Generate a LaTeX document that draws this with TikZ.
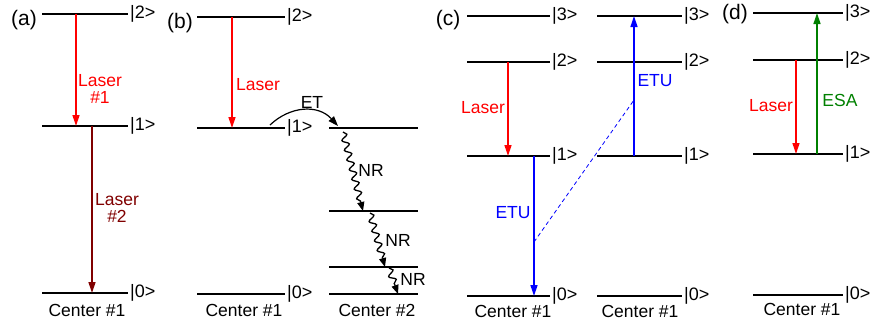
\documentclass[tikz,border=0pt]{standalone}
\usepackage{fontspec}
\setmainfont{Liberation Sans}
\usetikzlibrary{arrows.meta,decorations.pathmorphing}

\definecolor{laserred}{RGB}{255,0,0}
\definecolor{lasermaroon}{RGB}{128,0,0}
\definecolor{etublue}{RGB}{0,0,255}
\definecolor{esagreen}{RGB}{0,128,0}

% energy level: name, x start, x end, y
\newcommand{\bareLevel}[4]{%
  \draw[lvl] (#2,#4) coordinate (#1L) -- (#3,#4) coordinate (#1R);}
% energy level with its ket label
\newcommand{\enLevel}[5]{%
  \bareLevel{#1}{#2}{#3}{#4}
  \node[ket] (#1k) at (#1R) {#5};}

\begin{document}
\begin{tikzpicture}[x=1pt,y=-1pt,
    lvl/.style={line width=1.3pt},
    ket/.style={anchor=west,inner sep=2pt,font=\fontsize{18}{19}\selectfont},
    lbl/.style={inner sep=0pt,align=center,font=\fontsize{17.5}{16.5}\selectfont},
    panel/.style={inner sep=0pt,font=\fontsize{21}{22}\selectfont},
    trans/.style={line width=1.3pt,-{Triangle[length=11pt,width=7pt]}},
    nr/.style={line width=1.3pt,-{Triangle[length=9pt,width=7pt]},decorate,
      decoration={snake,amplitude=3.2pt,segment length=10pt,post length=8pt}}]
\useasboundingbox (0,0) rectangle (876,322);

% (a)
\node[panel] (pa) at (24,20) {(a)};
\enLevel{a2}{42}{128}{14}{|2>}
\enLevel{a1}{42}{128}{126}{|1>}
\enLevel{a0}{42}{128}{293}{|0>}
\node[lbl] (ca) at (87,310) {Center \#1};
\coordinate (aL1s) at (76,14);  \coordinate (aL1e) at (76,126);
\coordinate (aL2s) at (92,126); \coordinate (aL2e) at (92,293);
\draw[trans,laserred] (aL1s) -- (aL1e);
\draw[trans,lasermaroon] (aL2s) -- (aL2e);
\node[lbl,laserred] (las1) at (100,89) {Laser\\\#1};
\node[lbl,lasermaroon] (las2) at (117,208) {Laser\\\#2};

% (b)
\node[panel] (pb) at (180,23) {(b)};
\enLevel{b2}{197}{285}{17}{|2>}
\enLevel{b1}{197}{285}{128}{|1>}
\enLevel{b0}{197}{285}{294}{|0>}
\bareLevel{d3}{329}{418}{128}
\bareLevel{d2}{329}{418}{211}
\bareLevel{d1}{329}{418}{267}
\bareLevel{d0}{329}{418}{294}
\node[lbl] (cb1) at (244,310) {Center \#1};
\node[lbl] (cb2) at (377,310) {Center \#2};
\coordinate (bLs) at (232,17); \coordinate (bLe) at (232,128);
\draw[trans,laserred] (bLs) -- (bLe);
\node[lbl,laserred] (lasb) at (258,85) {Laser};
\coordinate (etS) at (270,125); \coordinate (etE) at (338,126);
\draw[line width=1.2pt,-{Triangle[length=10pt,width=7pt]}]
  (etS) .. controls (290,106) and (318,104) .. (etE);
\node[lbl] (et) at (312,102) {ET};
\coordinate (nr1s) at (343,132); \coordinate (nr1e) at (363,211);
\coordinate (nr2s) at (370,213); \coordinate (nr2e) at (385,267);
\coordinate (nr3s) at (389,268); \coordinate (nr3e) at (398,294);
\draw[nr] (nr1s) -- (nr1e);
\draw[nr] (nr2s) -- (nr2e);
\draw[nr] (nr3s) -- (nr3e);
\node[lbl] (nr1) at (371,170) {NR};
\node[lbl] (nr2) at (398,240) {NR};
\node[lbl] (nr3) at (413,279) {NR};

% (c)
\node[panel] (pc) at (448,20) {(c)};
\enLevel{c3}{467}{550}{16}{|3>}
\enLevel{c2}{467}{550}{62}{|2>}
\enLevel{c1}{467}{550}{156}{|1>}
\enLevel{c0}{467}{550}{296}{|0>}
\enLevel{e3}{597}{682}{16}{|3>}
\enLevel{e2}{597}{682}{62}{|2>}
\enLevel{e1}{597}{682}{156}{|1>}
\enLevel{e0}{597}{682}{296}{|0>}
\node[lbl] (cc1) at (513,311) {Center \#1};
\node[lbl] (cc2) at (640,311) {Center \#1};
\coordinate (cLs) at (508,62);   \coordinate (cLe) at (508,156);
\coordinate (cDs) at (534,156);  \coordinate (cDe) at (534,296);
\coordinate (cUs) at (634,156);  \coordinate (cUe) at (634,16);
\coordinate (cDm) at (534,242);  \coordinate (cUm) at (634,100);
\draw[trans,laserred] (cLs) -- (cLe);
\draw[trans,etublue] (cDs) -- (cDe);
\draw[trans,etublue] (cUs) -- (cUe);
\draw[etublue,line width=0.8pt,dash pattern=on 4pt off 3pt] (cDm) -- (cUm);
\node[lbl,laserred] (lasc) at (483,108) {Laser};
\node[lbl,etublue] (etu1) at (513,213) {ETU};
\node[lbl,etublue] (etu2) at (655,81) {ETU};

% (d)
\node[panel] (pd) at (735,14) {(d)};
\enLevel{f3}{753}{843}{13}{|3>}
\enLevel{f2}{753}{843}{60}{|2>}
\enLevel{f1}{753}{843}{154}{|1>}
\enLevel{f0}{753}{843}{295}{|0>}
\node[lbl] (cd) at (802,309) {Center \#1};
\coordinate (dLs) at (796,60);  \coordinate (dLe) at (796,154);
\coordinate (dEs) at (817,154); \coordinate (dEe) at (817,13);
\draw[trans,laserred] (dLs) -- (dLe);
\draw[trans,esagreen] (dEs) -- (dEe);
\node[lbl,laserred] (lasd) at (771,106) {Laser};
\node[lbl,esagreen] (esa) at (840,100) {ESA};
\end{tikzpicture}
\end{document}
